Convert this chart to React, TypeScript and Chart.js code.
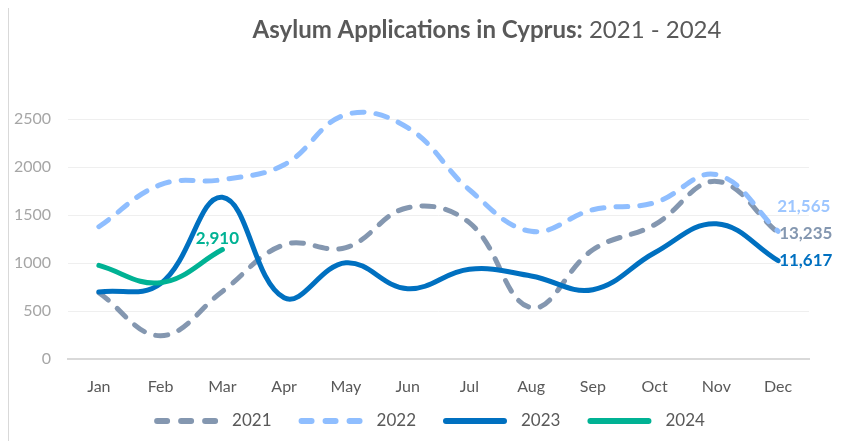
import React, { useEffect, useRef } from "react";
import { Chart, registerables } from "chart.js";

Chart.register(...registerables);

const months = ["Jan", "Feb", "Mar", "Apr", "May", "Jun", "Jul", "Aug", "Sep", "Oct", "Nov", "Dec"];
const seriesNames = ["2021", "2022", "2023", "2024"];
const values2021 = [690, 243, 704, 1190, 1160, 1576, 1420, 535, 1138, 1399, 1850, 1315];
const values2022 = [1378, 1816, 1868, 2024, 2545, 2410, 1763, 1330, 1555, 1628, 1920, 1330];
const values2023 = [698, 785, 1685, 638, 1003, 732, 935, 865, 722, 1107, 1409, 1024];
const values2024 = [975, 795, 1140];
const totalLabels = ["13,235", "21,565", "11,617", "2,910"];
const yTickValues = [0, 500, 1000, 1500, 2000, 2500];
const titleBold = "Asylum Applications in Cyprus:";
const titleNormal = " 2021 - 2024";

const FONT = "Lato, 'Open Sans', sans-serif";
const COLORS = ["#8497B0", "#8FBEFF", "#0070C0", "#00B294"];
const LABEL_COLORS = ["#8497B0", "#9DC6FF", "#0070C0", "#00B294"];
const DASHES = [[12, 12], [12, 12], [], []];
const ORDERS = [3, 2, 1, 0];
const LABEL_OFFSETS = [
  { dx: 1, dy: 1, align: "left" as CanvasTextAlign },
  { dx: -1, dy: -25, align: "left" as CanvasTextAlign },
  { dx: 1, dy: 0, align: "left" as CanvasTextAlign },
  { dx: -5, dy: -11, align: "center" as CanvasTextAlign },
];

export default function App() {
  const ref = useRef<HTMLCanvasElement>(null);

  useEffect(() => {
    document.documentElement.style.overflow = "hidden";
    document.body.style.overflow = "hidden";
    const canvas = ref.current;
    if (!canvas) return;

    const titlePlugin = {
      id: "mixedTitle",
      afterDraw(chart: any) {
        const ctx = chart.ctx as CanvasRenderingContext2D;
        ctx.save();
        ctx.fillStyle = "#595959";
        ctx.textBaseline = "middle";
        ctx.textAlign = "left";
        const boldFont = `bold 24px ${FONT}`;
        const normFont = `24px ${FONT}`;
        ctx.font = boldFont;
        const w1 = ctx.measureText(titleBold).width;
        ctx.font = normFont;
        const w2 = ctx.measureText(titleNormal).width;
        const x0 = 478 - (w1 + w2) / 2;
        ctx.font = boldFont;
        ctx.fillText(titleBold, x0, 25);
        ctx.font = normFont;
        ctx.fillText(titleNormal, x0 + w1, 25);
        ctx.restore();
      },
    };

    const legendPlugin = {
      id: "lineLegend",
      afterDraw(chart: any) {
        const ctx = chart.ctx as CanvasRenderingContext2D;
        const sampleLen = 58;
        const textGap = 17;
        const itemGap = 30;
        const cy = 416;
        const centerX = 422;
        ctx.save();
        ctx.font = `17px ${FONT}`;
        const items = chart.data.datasets.map((ds: any, i: number) => ({
          text: ds.label as string,
          color: COLORS[i],
          dash: DASHES[i].length ? [10, 14] : [],
          w: ctx.measureText(ds.label).width,
        }));
        const total =
          items.reduce((s: number, it: any) => s + sampleLen + textGap + it.w, 0) +
          itemGap * (items.length - 1);
        let x = centerX - total / 2;
        items.forEach((it: any) => {
          ctx.beginPath();
          ctx.lineWidth = 6;
          ctx.lineCap = "round";
          ctx.strokeStyle = it.color;
          ctx.setLineDash(it.dash);
          ctx.moveTo(x, cy);
          ctx.lineTo(x + sampleLen, cy);
          ctx.stroke();
          ctx.setLineDash([]);
          ctx.fillStyle = "#595959";
          ctx.textBaseline = "middle";
          ctx.textAlign = "left";
          ctx.fillText(it.text, x + sampleLen + textGap, cy);
          x += sampleLen + textGap + it.w + itemGap;
        });
        ctx.restore();
      },
    };

    const labelPlugin = {
      id: "totalLabels",
      afterDatasetsDraw(chart: any) {
        const ctx = chart.ctx as CanvasRenderingContext2D;
        ctx.save();
        ctx.font = `bold 17px ${FONT}`;
        ctx.textBaseline = "middle";
        chart.data.datasets.forEach((ds: any, i: number) => {
          const meta = chart.getDatasetMeta(i);
          const pt = meta.data[ds.data.length - 1];
          if (!pt) return;
          const off = LABEL_OFFSETS[i];
          ctx.fillStyle = LABEL_COLORS[i];
          ctx.textAlign = off.align;
          ctx.fillText(totalLabels[i], pt.x + off.dx, pt.y + off.dy);
        });
        ctx.restore();
      },
    };

    const seriesValues = [values2021, values2022, values2023, values2024];

    const chart = new Chart(canvas, {
      type: "line",
      data: {
        labels: months,
        datasets: seriesNames.map((name, i) => ({
          label: name,
          data: seriesValues[i],
          borderColor: COLORS[i],
          backgroundColor: COLORS[i],
          borderWidth: 5,
          borderDash: DASHES[i],
          borderCapStyle: "round",
          borderJoinStyle: "round",
          pointRadius: 0,
          pointHoverRadius: 0,
          tension: 0.4,
          fill: false,
          clip: false,
          order: ORDERS[i],
        })) as any,
      },
      options: {
        animation: false,
        responsive: false,
        events: [],
        layout: { padding: { top: 114, left: 0, right: 0, bottom: 42 } },
        elements: { line: { capBezierPoints: false } },
        scales: {
          x: {
            offset: true,
            grid: { display: false, drawTicks: false, offset: true },
            border: { display: true, color: "#d9d9d9", width: 2 },
            ticks: {
              color: "#595959",
              font: { family: FONT, size: 16 },
              padding: 18,
              maxRotation: 0,
              autoSkip: false,
            },
            afterFit: (s: any) => {
              s.height = 40;
            },
          },
          y: {
            min: 0,
            max: 2500,
            afterBuildTicks: (s: any) => {
              s.ticks = yTickValues.map((v) => ({ value: v }));
            },
            ticks: {
              color: "#a6a6a6",
              font: { family: FONT, size: 16 },
              padding: 17,
              callback: (v: any) => String(v),
            },
            grid: { color: "#efefef", drawTicks: false, lineWidth: 1 },
            border: { display: false },
            afterFit: (s: any) => {
              s.width = 59;
            },
          },
          y2: {
            position: "right",
            display: true,
            grid: { display: false, drawTicks: false },
            ticks: { display: false },
            border: { display: false },
            afterFit: (s: any) => {
              s.width = 32;
            },
          },
        } as any,
        plugins: {
          title: { display: false },
          tooltip: { enabled: false },
          legend: { display: false },
        },
      },
      plugins: [titlePlugin, labelPlugin, legendPlugin],
    });

    return () => {
      chart.destroy();
    };
  }, []);

  return (
    <div
      style={{
        position: "relative",
        width: 833,
        height: 437,
        marginTop: -4,
        borderTop: "1px solid #d9d9d9",
        borderLeft: "1px solid #d9d9d9",
        boxSizing: "border-box",
        background: "#fff",
      }}
    >
      <canvas ref={ref} width={832} height={436} style={{ display: "block" }} />
    </div>
  );
}
